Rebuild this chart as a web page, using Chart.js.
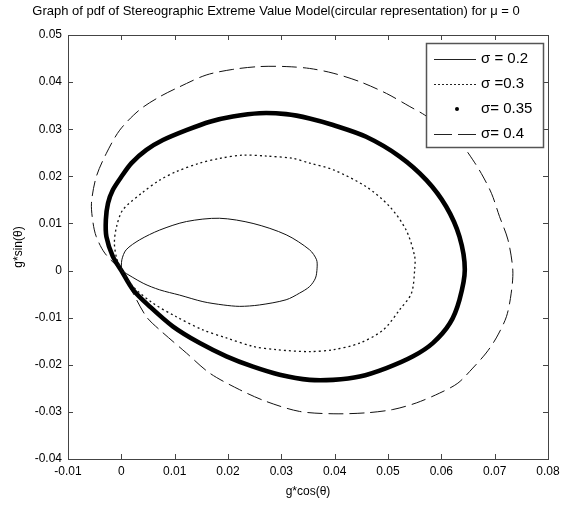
<!DOCTYPE html>
<html>
<head>
<meta charset="utf-8">
<script src="https://cdn.jsdelivr.net/npm/chart.js@4.4.1/dist/chart.umd.min.js"></script>
<style>
  html, body { margin: 0; padding: 0; background: #fff; }
  #wrap { width: 576px; height: 510px; }
</style>
</head>
<body>
<div id="wrap"><canvas id="c" width="576" height="510"></canvas></div>
<script>
// Curves of g(θ) drawn as (g·cosθ, g·sinθ), one closed loop per σ (μ = 0)
const seriesLabels = ['σ = 0.2', 'σ =0.3', 'σ= 0.35', 'σ= 0.4'];

const sigma02X = [0, 0.0001, 0.0009, 0.0034, 0.0072, 0.0122, 0.0184, 0.0247, 0.0309, 0.0353, 0.0366, 0.0367,
  0.0364, 0.0353, 0.0334, 0.0309, 0.0259, 0.0222, 0.0191, 0.0153, 0.0109, 0.0072, 0.0041, 0];
const sigma02Y = [0, 0.0023, 0.0044, 0.0065, 0.0086, 0.0104, 0.0111, 0.0100, 0.0076, 0.0044, 0.0023, 0.0005,
  -0.0016, -0.0034, -0.0048, -0.0062, -0.0073, -0.0076, -0.0073, -0.0066, -0.0052, -0.0041, -0.0027, 0];

const sigma03X = [0, -0.0009, -0.0013, -0.0009, 0.0003, 0.0040, 0.0072, 0.0103, 0.0147, 0.0184, 0.0228, 0.0272,
  0.0322, 0.0353, 0.0397, 0.0459, 0.0503, 0.0534, 0.0550, 0.0550, 0.0544, 0.0522, 0.0491, 0.0447, 0.0397,
  0.0353, 0.0291, 0.0247, 0.0197, 0.0153, 0.0103, 0.0059, 0.0022, 0];
const sigma03Y = [0, 0.0027, 0.0059, 0.0093, 0.0129, 0.0166, 0.0192, 0.0210, 0.0228, 0.0238, 0.0245, 0.0243,
  0.0238, 0.0228, 0.0214, 0.0178, 0.0136, 0.0086, 0.0030, 0.0002, -0.0048, -0.0083, -0.0126, -0.0154, -0.0168,
  -0.0172, -0.0168, -0.0161, -0.0143, -0.0126, -0.0098, -0.0069, -0.0034, 0];

const sigma035X = [0, -0.0016, -0.0028, -0.0029, -0.0025, -0.0016, 0, 0.0019, 0.0047, 0.0078, 0.0122, 0.0166,
  0.0209, 0.0259, 0.0309, 0.0353, 0.0397, 0.0459, 0.0522, 0.0572, 0.0609, 0.0634, 0.0644, 0.0634, 0.0616,
  0.0584, 0.0547, 0.0497, 0.0447, 0.0397, 0.0353, 0.0297, 0.0247, 0.0197, 0.0147, 0.0097, 0.0053, 0.0022, 0];
const sigma035Y = [0, 0.0030, 0.0072, 0.0108, 0.0143, 0.0171, 0.0199, 0.0228, 0.0256, 0.0277, 0.0298, 0.0316,
  0.0327, 0.0334, 0.0332, 0.0323, 0.0309, 0.0284, 0.0242, 0.0192, 0.0136, 0.0072, 0.0002, -0.0062, -0.0112,
  -0.0154, -0.0182, -0.0207, -0.0225, -0.0232, -0.0232, -0.0221, -0.0204, -0.0182, -0.0154, -0.0119, -0.0076, -0.0041, 0];

const sigma04X = [0, -0.0031, -0.0047, -0.0053, -0.0056, -0.0047, -0.0028, -0.0003, 0.0034, 0.0072, 0.0109,
  0.0159, 0.0209, 0.0259, 0.0309, 0.0353, 0.0397, 0.0447, 0.0497, 0.0541, 0.0569, 0.0606, 0.0641, 0.0659,
  0.0675, 0.0694, 0.0709, 0.0725, 0.0734, 0.0731, 0.0722, 0.0703, 0.0684, 0.0659, 0.0631, 0.0597, 0.0553,
  0.0509, 0.0459, 0.0397, 0.0334, 0.0272, 0.0222, 0.0166, 0.0122, 0.0072, 0.0047, 0.0022, 0];
const sigma04Y = [0, 0.0037, 0.0072, 0.0101, 0.0143, 0.0199, 0.0249, 0.0298, 0.0341, 0.0369, 0.0390,
  0.0415, 0.0427, 0.0433, 0.0433, 0.0429, 0.0419, 0.0401, 0.0376, 0.0348, 0.0330, 0.0298, 0.0263, 0.0235,
  0.0206, 0.0164, 0.0115, 0.0065, 0.0001, -0.0048, -0.0098, -0.0143, -0.0175, -0.0207, -0.0239, -0.0260, -0.0281,
  -0.0295, -0.0302, -0.0304, -0.0299, -0.0278, -0.0253, -0.0218, -0.0175, -0.0126, -0.0098, -0.0048, 0];

const xTicks = [-0.01, 0, 0.01, 0.02, 0.03, 0.04, 0.05, 0.06, 0.07, 0.08];
const yTicks = [-0.04, -0.03, -0.02, -0.01, 0, 0.01, 0.02, 0.03, 0.04, 0.05];

const toPoints = (xs, ys) => xs.map((x, i) => ({ x: x, y: ys[i] }));

const FONT = '"Liberation Sans Narrow", "Liberation Sans", Arial, sans-serif';
const AXIS = '#444';

const datasets = [
  { label: seriesLabels[0], data: toPoints(sigma02X, sigma02Y), borderColor: '#111', borderWidth: 1,
    legendKind: 'solid' },
  { label: seriesLabels[1], data: toPoints(sigma03X, sigma03Y), borderColor: '#111', borderWidth: 1.3,
    borderDash: [2, 3], legendKind: 'dotted' },
  { label: seriesLabels[2], data: toPoints(sigma035X, sigma035Y), borderColor: '#000', borderWidth: 4.6,
    legendKind: 'marker' },
  { label: seriesLabels[3], data: toPoints(sigma04X, sigma04Y), borderColor: '#111', borderWidth: 1,
    borderDash: [15, 6], legendKind: 'dashed' }
].map(d => Object.assign({ showLine: true, pointRadius: 0, tension: 0.3, fill: false }, d));

const fmt = v => String(Math.round(v * 100) / 100);

// Box frame, inward ticks on all four sides, title and the legend box
const framePlugin = {
  id: 'frame',
  afterDatasetsDraw(chart) {
    const ctx = chart.ctx;
    const a = chart.chartArea;
    const xs = chart.scales.x, ys = chart.scales.y;
    const L = 5;
    ctx.save();
    ctx.strokeStyle = AXIS;
    ctx.lineWidth = 1;
    ctx.beginPath();
    xTicks.forEach(v => {
      const px = Math.round(xs.getPixelForValue(v)) + 0.5;
      ctx.moveTo(px, a.bottom); ctx.lineTo(px, a.bottom - L);
      ctx.moveTo(px, a.top); ctx.lineTo(px, a.top + L);
    });
    yTicks.forEach(v => {
      const py = Math.round(ys.getPixelForValue(v)) + 0.5;
      ctx.moveTo(a.left, py); ctx.lineTo(a.left + L, py);
      ctx.moveTo(a.right, py); ctx.lineTo(a.right - L, py);
    });
    ctx.stroke();
    ctx.strokeRect(Math.round(a.left) + 0.5, Math.round(a.top) + 0.5,
      Math.round(a.right - a.left), Math.round(a.bottom - a.top));

    // title
    ctx.fillStyle = '#000';
    ctx.font = '13px ' + FONT;
    ctx.textAlign = 'center';
    ctx.textBaseline = 'middle';
    ctx.fillText('Graph of pdf of Stereographic Extreme Value Model(circular representation) for μ = 0', 276, 11);

    // legend
    const bx = 426, by = 43, bw = 117, bh = 104;
    ctx.fillStyle = '#fff';
    ctx.fillRect(bx, by, bw, bh);
    ctx.strokeStyle = '#555';
    ctx.lineWidth = 1.5;
    ctx.strokeRect(bx + 0.5, by + 0.5, bw, bh);
    const rows = [59, 84, 109, 134];
    chart.data.datasets.forEach((d, i) => {
      const y = rows[i];
      ctx.strokeStyle = '#222';
      ctx.lineWidth = 1;
      ctx.setLineDash([]);
      if (d.legendKind === 'marker') {
        ctx.fillStyle = '#000';
        ctx.beginPath();
        ctx.arc(457, y, 2, 0, Math.PI * 2);
        ctx.fill();
      } else {
        if (d.legendKind === 'dotted') ctx.setLineDash([2, 2]);
        if (d.legendKind === 'dashed') ctx.setLineDash([18, 6]);
        ctx.beginPath();
        ctx.moveTo(434, y + 0.5);
        ctx.lineTo(476, y + 0.5);
        ctx.stroke();
      }
      ctx.setLineDash([]);
      ctx.fillStyle = '#000';
      ctx.font = '15px ' + FONT;
      ctx.textAlign = 'left';
      ctx.textBaseline = 'middle';
      ctx.fillText(d.label, 481, y);
    });
    ctx.restore();
  }
};

new Chart(document.getElementById('c'), {
  type: 'scatter',
  data: { datasets: datasets },
  options: {
    responsive: false,
    animation: false,
    layout: { padding: { top: 35, right: 28, left: 0, bottom: 0 } },
    plugins: { legend: { display: false }, tooltip: { enabled: false }, title: { display: false } },
    scales: {
      x: {
        type: 'linear', min: -0.01, max: 0.08,
        afterBuildTicks: s => { s.ticks = xTicks.map(v => ({ value: v })); },
        afterFit: s => { s.height = 51; },
        grid: { display: false, drawTicks: false },
        border: { display: false },
        ticks: { color: '#000', padding: 5, maxRotation: 0, autoSkip: false,
          font: { family: FONT, size: 12 }, callback: v => fmt(v) },
        title: { display: true, text: 'g*cos(θ)', color: '#000', font: { family: FONT, size: 12 },
          padding: { top: 0, bottom: 11 } }
      },
      y: {
        type: 'linear', min: -0.04, max: 0.05,
        afterBuildTicks: s => { s.ticks = yTicks.map(v => ({ value: v })); },
        afterFit: s => { s.width = 68; },
        grid: { display: false, drawTicks: false },
        border: { display: false },
        ticks: { color: '#000', padding: 6, autoSkip: false,
          font: { family: FONT, size: 12 }, callback: v => fmt(v) },
        title: { display: true, text: 'g*sin(θ)', color: '#000', font: { family: FONT, size: 12 },
          padding: { top: 11, bottom: 0 } }
      }
    }
  },
  plugins: [framePlugin]
});
</script>
</body>
</html>
